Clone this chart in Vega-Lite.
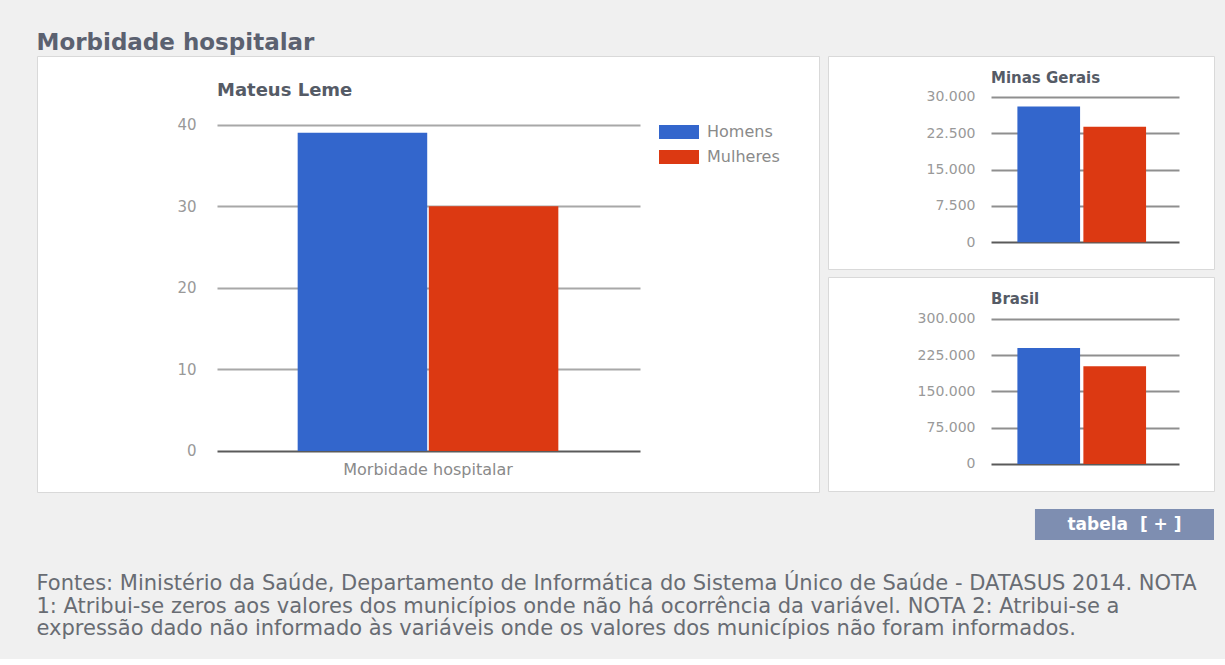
{
  "$schema": "https://vega.github.io/schema/vega-lite/v6.json",
  "background": "#f0f0f0",
  "padding": {"left": 36, "top": 31, "right": 11, "bottom": 20},
  "config": {
    "font": "DejaVu Sans",
    "locale": {"number": {"decimal": ",", "thousands": ".", "grouping": [3], "currency": ["R$ ", ""]}},
    "view": {"stroke": null},
    "axis": {"labelFont": "DejaVu Sans"}
  },
  "datasets": {
    "morbidade": [
      {"regiao": "Mateus Leme", "indicador": "Morbidade hospitalar", "sexo": "Homens", "valor": 39},
      {"regiao": "Mateus Leme", "indicador": "Morbidade hospitalar", "sexo": "Mulheres", "valor": 30},
      {"regiao": "Minas Gerais", "indicador": "Morbidade hospitalar", "sexo": "Homens", "valor": 28000},
      {"regiao": "Minas Gerais", "indicador": "Morbidade hospitalar", "sexo": "Mulheres", "valor": 23800},
      {"regiao": "Brasil", "indicador": "Morbidade hospitalar", "sexo": "Homens", "valor": 239500},
      {"regiao": "Brasil", "indicador": "Morbidade hospitalar", "sexo": "Mulheres", "valor": 201700}
    ],
    "botao": [{"rotulo": "tabela\u00a0 [ + ]"}]
  },
  "title": {
    "text": "Morbidade hospitalar",
    "anchor": "start",
    "fontSize": 23,
    "fontWeight": "bold",
    "color": "#5b6170",
    "baseline": "alphabetic",
    "offset": -17
  },
  "vconcat": [
    {
      "title": {
        "text": [
          "Fontes: Ministério da Saúde, Departamento de Informática do Sistema Único de Saúde - DATASUS 2014. NOTA",
          "1: Atribui-se zeros aos valores dos municípios onde não há ocorrência da variável. NOTA 2: Atribui-se a",
          "expressão dado não informado às variáveis onde os valores dos municípios não foram informados."
        ],
        "orient": "bottom",
        "anchor": "start",
        "fontSize": 21,
        "fontWeight": "normal",
        "color": "#686c73",
        "lineHeight": 22.5,
        "baseline": "top",
        "offset": 33
      },
      "spacing": 7,
      "resolve": {"scale": {"xOffset": "independent", "color": "independent"}},
      "hconcat": [
        {
          "width": 782,
          "height": 436,
          "view": {"fill": "white", "stroke": "#d9d9d9", "strokeWidth": 1},
          "title": {
            "text": "Mateus Leme",
            "anchor": "start",
            "dx": 180,
            "offset": -58,
            "baseline": "alphabetic",
            "fontSize": 18,
            "fontWeight": "bold",
            "color": "#555b66"
          },
          "data": {"name": "morbidade"},
          "transform": [{"filter": "datum.regiao === 'Mateus Leme'"}],
          "mark": {"type": "bar"},
          "encoding": {
            "x": {
              "field": "indicador", "type": "nominal",
              "scale": {"paddingInner": 0, "paddingOuter": 1},
              "axis": {"title": null, "orient": "bottom", "offset": -41, "ticks": false, "domain": false, "labelPadding": 10, "labelFontSize": 16, "labelColor": "#8a8a8a", "labelAngle": 0, "labelLimit": 400}
            },
            "xOffset": {"field": "sexo", "type": "nominal", "sort": ["Homens", "Mulheres"], "scale": {"paddingInner": 0.012}},
            "y": {
              "field": "valor", "type": "quantitative",
              "scale": {"domain": [-5.03, 48.42], "nice": false, "zero": false},
              "axis": {"title": null, "orient": "left", "offset": -603, "tickSize": 423, "tickWidth": 2,
                "tickColor": {"condition": {"test": "datum.value === 0", "value": "#5a5a5a"}, "value": "#a8a8a8"},
                "domain": false, "grid": false, "values": [0, 10, 20, 30, 40],
                "labelPadding": 21, "labelFontSize": 15, "labelColor": "#999999"}
            },
            "color": {
              "field": "sexo", "type": "nominal",
              "scale": {"domain": ["Homens", "Mulheres"], "range": ["#3366cc", "#dc3912"]},
              "legend": {"orient": "none", "legendX": 632, "legendY": 66, "title": null,
                "symbolType": "M-2,-0.7H2V0.7H-2Z", "symbolSize": 400, "symbolStrokeWidth": 0, "symbolOpacity": 1,
                "labelFontSize": 16, "labelColor": "#8a8a8a", "labelOffset": 18, "rowPadding": 7, "padding": 0}
            }
          }
        },
        {
          "spacing": 17,
          "resolve": {"scale": {"xOffset": "independent", "color": "independent"}},
          "vconcat": [
            {
              "spacing": 6,
              "resolve": {"scale": {"xOffset": "independent", "color": "independent"}},
              "vconcat": [
                {
                  "width": 386,
                  "height": 213,
                  "view": {"fill": "white", "stroke": "#d9d9d9", "strokeWidth": 1},
                  "title": {"text": "Minas Gerais", "anchor": "start", "dx": 163, "offset": -42, "baseline": "alphabetic", "fontSize": 15, "fontWeight": "bold", "color": "#555b66"},
                  "data": {"name": "morbidade"},
                  "transform": [{"filter": "datum.regiao === 'Minas Gerais'"}],
                  "mark": {"type": "bar"},
                  "encoding": {
                    "x": {"field": "indicador", "type": "nominal", "scale": {"paddingInner": 0, "paddingOuter": 1.164, "align": 0.736}, "axis": null},
                    "xOffset": {"field": "sexo", "type": "nominal", "sort": ["Homens", "Mulheres"], "scale": {"paddingInner": 0.05}},
                    "y": {
                      "field": "valor", "type": "quantitative",
                      "scale": {"domain": [-5501, 38386], "nice": false, "zero": false},
                      "axis": {"title": null, "orient": "left", "offset": -351, "tickSize": 188, "tickWidth": 2,
                        "tickColor": {"condition": {"test": "datum.value === 0", "value": "#5a5a5a"}, "value": "#8f8f8f"},
                        "domain": false, "grid": false, "values": [0, 7500, 15000, 22500, 30000], "format": ",.0f",
                        "labelPadding": 16, "labelFontSize": 14, "labelColor": "#999999"}
                    },
                    "color": {"field": "sexo", "type": "nominal", "scale": {"domain": ["Homens", "Mulheres"], "range": ["#3366cc", "#dc3912"]}, "legend": null}
                  }
                },
                {
                  "width": 386,
                  "height": 214,
                  "view": {"fill": "white", "stroke": "#d9d9d9", "strokeWidth": 1},
                  "title": {"text": "Brasil", "anchor": "start", "dx": 163, "offset": -42, "baseline": "alphabetic", "fontSize": 15, "fontWeight": "bold", "color": "#555b66"},
                  "data": {"name": "morbidade"},
                  "transform": [{"filter": "datum.regiao === 'Brasil'"}],
                  "mark": {"type": "bar"},
                  "encoding": {
                    "x": {"field": "indicador", "type": "nominal", "scale": {"paddingInner": 0, "paddingOuter": 1.164, "align": 0.736}, "axis": null},
                    "xOffset": {"field": "sexo", "type": "nominal", "sort": ["Homens", "Mulheres"], "scale": {"paddingInner": 0.05}},
                    "y": {
                      "field": "valor", "type": "quantitative",
                      "scale": {"domain": [-55747, 386098], "nice": false, "zero": false},
                      "axis": {"title": null, "orient": "left", "offset": -351, "tickSize": 188, "tickWidth": 2,
                        "tickColor": {"condition": {"test": "datum.value === 0", "value": "#5a5a5a"}, "value": "#8f8f8f"},
                        "domain": false, "grid": false, "values": [0, 75000, 150000, 225000, 300000], "format": ",.0f",
                        "labelPadding": 16, "labelFontSize": 14, "labelColor": "#999999"}
                    },
                    "color": {"field": "sexo", "type": "nominal", "scale": {"domain": ["Homens", "Mulheres"], "range": ["#3366cc", "#dc3912"]}, "legend": null}
                  }
                }
              ]
            },
            {
              "width": 386,
              "height": 31,
              "view": {"fill": null, "stroke": null},
              "data": {"name": "botao"},
              "layer": [
                {
                  "mark": {"type": "bar", "color": "#7e8eb1"},
                  "encoding": {
                    "x": {"field": "rotulo", "type": "nominal", "scale": {"paddingInner": 0, "paddingOuter": 0.578, "align": 1}, "axis": null}
                  }
                },
                {
                  "mark": {"type": "text", "color": "white", "fontWeight": "bold", "fontSize": 17},
                  "encoding": {
                    "x": {"field": "rotulo", "type": "nominal", "axis": null},
                    "text": {"field": "rotulo"}
                  }
                }
              ]
            }
          ]
        }
      ]
    }
  ]
}
